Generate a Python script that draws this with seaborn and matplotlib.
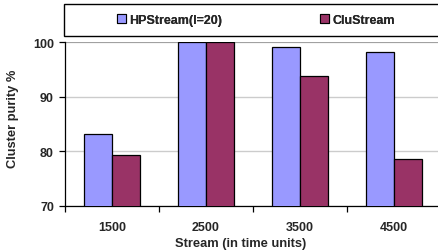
import pandas as pd
import matplotlib.pyplot as plt
import seaborn as sns
from matplotlib.patches import Rectangle
from matplotlib.ticker import FixedLocator

streams = ["1500", "2500", "3500", "4500"]
hpstream = [83.1, 100.0, 99.0, 98.1]
clustream = [79.3, 100.0, 93.7, 78.6]
series_names = ["HPStream(l=20)", "CluStream"]
colors = ["#9999FF", "#993366"]

df = pd.DataFrame({
    "Stream": streams * 2,
    "Purity": hpstream + clustream,
    "Method": [series_names[0]] * 4 + [series_names[1]] * 4,
})

sns.set_theme(style="white")
plt.rcParams["font.family"] = ["Liberation Sans", "DejaVu Sans"]
plt.rcParams["font.weight"] = "bold"

fig = plt.figure(figsize=(4.39, 2.53), dpi=100)
ax = fig.add_axes([65 / 439, 1 - 207 / 253, 376 / 439, 164 / 253])

sns.barplot(data=df, x="Stream", y="Purity", hue="Method", palette=colors,
            width=0.59, edgecolor="black", linewidth=0.9, saturation=1,
            ax=ax, legend=False, zorder=3)

ax.set_ylim(70, 100)
ax.set_xlim(-0.5, 3.5)
ax.set_yticks([70, 80, 90, 100])
ax.yaxis.grid(True, color="#cccccc", linewidth=1, zorder=0)
ax.set_axisbelow(True)
for s in ["top", "right"]:
    ax.spines[s].set_visible(False)
for s in ["left", "bottom"]:
    ax.spines[s].set_color("black")
    ax.spines[s].set_linewidth(0.9)
ax.axhline(100, color="#999999", linewidth=1.2, zorder=1)

ax.tick_params(axis="y", which="major", direction="out", length=4, width=0.9,
               color="black", labelsize=9, pad=4, left=True)
ax.tick_params(axis="x", which="major", length=0, labelsize=9, pad=11)
ax.xaxis.set_minor_locator(FixedLocator([-0.5, 0.5, 1.5, 2.5, 3.5]))
ax.tick_params(axis="x", which="minor", direction="out", length=4, width=0.9,
               color="black", bottom=True)
for lab in ax.get_xticklabels() + ax.get_yticklabels():
    lab.set_fontweight("bold")

ax.set_xlabel("Stream (in time units)", fontsize=9.3, fontweight="bold")
ax.set_ylabel("Cluster purity %", fontsize=9.3, fontweight="bold")
ax.xaxis.set_label_coords(0.468, -0.186)
ax.yaxis.set_label_coords(-0.122, 0.537)

# legend box across the top
fig.patches.append(Rectangle((64 / 439, 1 - 37 / 253), 380 / 439, 32 / 253,
                             transform=fig.transFigure, facecolor="white",
                             edgecolor="black", linewidth=1.0))
starts = [117, 320]
for name, c, x0 in zip(series_names, colors, starts):
    h = Rectangle((0, 0), 1, 1, facecolor=c, edgecolor="black", linewidth=0.8)
    leg = fig.legend([h], [name], loc="center left", frameon=False,
                     bbox_to_anchor=(x0 / 439, 1 - 21 / 253), borderaxespad=0,
                     borderpad=0, handlelength=0.75, handleheight=0.75,
                     handletextpad=0.25, prop={"size": 9, "weight": "bold"})
    fig.add_artist(leg)

fig.savefig("out.png", dpi=100)
